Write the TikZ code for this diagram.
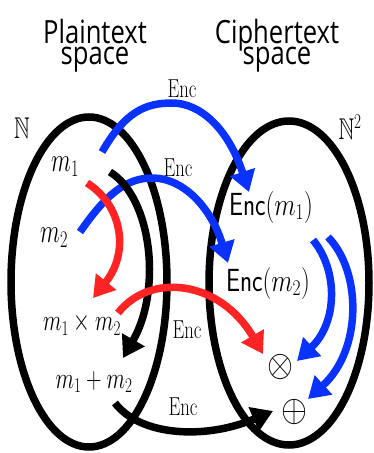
\RequirePackage{fix-cm}
\documentclass[tikz,border=0pt]{standalone}
\usepackage{amsmath,amssymb}
\usepackage{fontspec}
\newfontfamily\titlefont{Open Sans}
\usetikzlibrary{arrows.meta}
\definecolor{eblue}{RGB}{10,50,255}
\definecolor{ered}{RGB}{255,35,35}
\newcommand\sq[1]{\scalebox{0.72}[1]{#1}}
\newcommand\sqm[1]{\scalebox{0.68}[1]{#1}}
\newcommand\sqc[1]{\scalebox{0.78}[1]{#1}}
\newcommand\sqt[1]{\scalebox{0.8}[1]{#1}}
\newcommand\sqo[1]{\scalebox{0.88}[1]{#1}}
\tikzset{
  setline/.style={line width=7.5pt, black},
  arr/.style={line width=7.5pt, -{Triangle[length=21pt,width=25pt]}},
  lbl/.style={inner sep=0pt, font=\fontsize{30}{30}\selectfont},
  mlbl/.style={inner sep=0pt, font=\fontsize{34}{34}\selectfont},
  clbl/.style={inner sep=0pt, font=\fontsize{32}{32}\selectfont},
  oplbl/.style={inner sep=0pt, font=\fontsize{38}{38}\selectfont},
  enclbl/.style={inner sep=0pt, font=\fontsize{26}{26}\selectfont},
  title/.style={inner sep=0pt, font=\titlefont\fontsize{32}{32}\selectfont},
}
\begin{document}
\begin{tikzpicture}[x=1pt,y=-1pt]
\useasboundingbox (0,0) rectangle (373,453);
% titles
\node[title, anchor=base, text depth=0pt] (tp1) at (95,43) {\sqt{Plaintext}};
\node[title, anchor=base, text height=17pt] (tp2) at (95,64) {\sqt{space}};
\node[title, anchor=base, text depth=0pt] (tc1) at (277,43) {\sqt{Ciphertext}};
\node[title, anchor=base, text height=17pt] (tc2) at (277,64) {\sqt{space}};
% sets
\draw[setline] (89,282) ellipse [x radius=78, y radius=165];
\draw[setline] (289,283) ellipse [x radius=80, y radius=162];
\node[lbl] (N1) at (22,128) {\sq{$\mathbb{N}$}};
\node[lbl] (N2) at (350,127) {\sq{$\mathbb{N}^2$}};
% elements
\node[mlbl] (m1) at (65,167) {\sqm{$m_1$}};
\node[mlbl] (m2) at (54,238) {\sqm{$m_2$}};
\node[lbl] (mx) at (82,324) {\sq{$m_1\times m_2$}};
\node[lbl] (mp) at (94,382) {\sq{$m_1+m_2$}};
\node[clbl] (c1) at (271,207) {\sqc{\textsf{Enc}$(m_1)$}};
\node[clbl] (c2) at (268,283) {\sqc{\textsf{Enc}$(m_2)$}};
\node[oplbl] (ot) at (281,367) {\sqo{$\otimes$}};
\node[oplbl] (op) at (295,412) {\sqo{$\oplus$}};
% Enc labels
\node[enclbl] (e1) at (182,89) {\sq{Enc}};
\node[enclbl] (e2) at (178,168) {\sq{Enc}};
\node[enclbl] (e3) at (187,330) {\sq{Enc}};
\node[enclbl] (e4) at (183,407) {\sq{Enc}};
% arrow end points
\coordinate (a1s) at (102,152); \coordinate (a1e) at (249,192);
\coordinate (a2s) at (80,232);  \coordinate (a2e) at (228,263);
\coordinate (r1s) at (87,183);  \coordinate (r1e) at (93,298);
\coordinate (k1s) at (110,172); \coordinate (k1e) at (123,358);
\coordinate (r2s) at (118,313); \coordinate (r2e) at (263,354);
\coordinate (b3s) at (313,240); \coordinate (b3e) at (297,361);
\coordinate (b4s) at (328,237); \coordinate (b4e) at (308,399);
\coordinate (k2s) at (115,403); \coordinate (k2e) at (273,411);
% arrows
\draw[arr, eblue] (a1s) .. controls (125,112) and (145,103) .. (172,103)
   .. controls (200,103) and (228,128) .. (a1e);
\draw[arr, eblue] (a2s) .. controls (105,196) and (125,178) .. (152,178)
   .. controls (185,178) and (212,210) .. (a2e);
\draw[arr, ered] (r1s) .. controls (122,205) and (130,252) .. (r1e);
\draw[arr, black] (k1s) .. controls (152,198) and (162,290) .. (k1e);
\draw[arr, ered] (r2s) .. controls (150,272) and (220,280) .. (r2e);
\draw[arr, eblue] (b3s) .. controls (338,270) and (338,322) .. (b3e);
\draw[arr, eblue] (b4s) .. controls (362,272) and (362,350) .. (b4e);
\draw[arr, black] (k2s) .. controls (140,436) and (205,440) .. (k2e);
\end{tikzpicture}
\end{document}
